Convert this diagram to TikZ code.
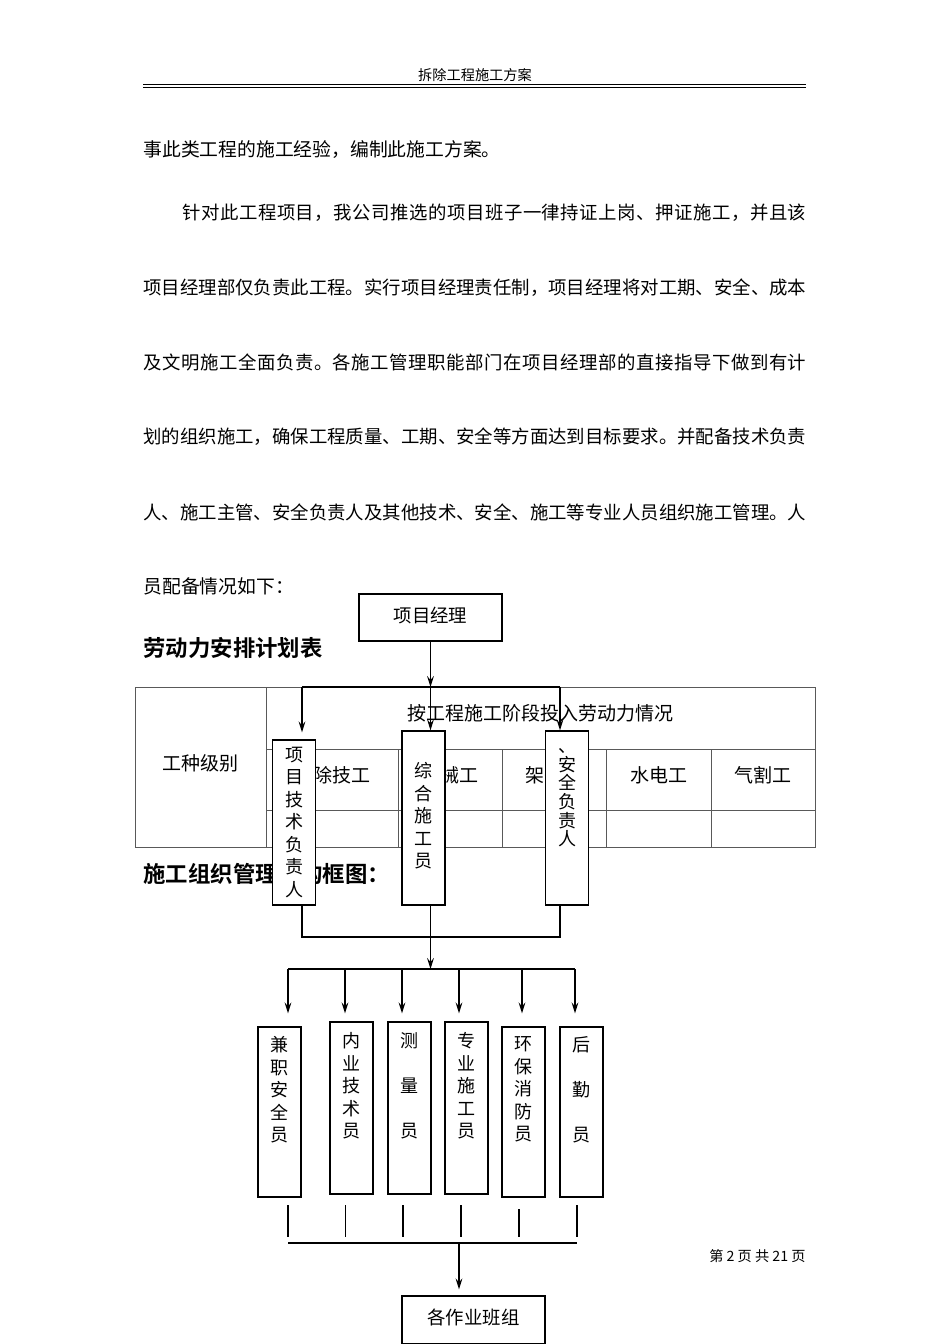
\documentclass[tikz,border=0pt]{standalone}
\usepackage{fontspec}
\newfontfamily\cjk{Noto Sans CJK SC}
\newfontfamily\cjkbf{Noto Sans CJK SC Bold}
\usetikzlibrary{arrows.meta,positioning}

% spread the characters of one line over a given width
\newcommand\spreadchars[1]{\spreadloop#1\relax}
\def\spreadloop#1{\ifx#1\relax\else#1\hfil\expandafter\spreadloop\fi}
\newcommand\spreadline[2]{\hbox to #1{\spreadchars{#2}\unskip}}

\tikzset{
  bodytext/.style={font=\cjk\fontsize{9.4}{11}\selectfont, anchor=west, inner sep=0pt},
  spreadtext/.style={font=\cjk\fontsize{9.2}{11}\selectfont, anchor=west, inner sep=0pt},
  headtext/.style={font=\cjk\fontsize{7.1}{8}\selectfont, inner sep=0pt},
  titletext/.style={font=\cjkbf\fontsize{11.2}{13}\selectfont, anchor=west, inner sep=0pt},
  celltext/.style={font=\cjk\fontsize{9.5}{11}\selectfont, inner sep=0pt},
  tline/.style={draw=black!65, line width=0.5pt},
  link/.style={line width=0.65pt},
  arr/.style={link, -{Stealth[length=5.5pt,width=3.4pt,inset=2pt]}},
  vbox/.style={draw, fill=white, line width=0.65pt, minimum width=21.5pt, inner sep=0pt},
  vtext/.style={font=\cjk\fontsize{9}{11.25}\selectfont, align=center, inner sep=0pt},
  wbox/.style={draw, fill=white, line width=0.65pt, minimum width=71.5pt, minimum height=23.5pt, inner sep=0pt,
    font=\cjk\fontsize{9.2}{11}\selectfont}
}

\begin{document}
\begin{tikzpicture}[x=0.5pt, y=-0.5pt]
\useasboundingbox[fill=white] (0,0) rectangle (950,1344);

% page header
\node[headtext] (hd) at (475,75) {拆除工程施工方案};
\draw[line width=0.6pt] (143,84.5) -- (806,84.5);
\draw[line width=0.9pt] (143,87.4) -- (806,87.4);

% body text
\node[bodytext] (p1) at (143,150) {事此类工程的施工经验，编制此施工方案。};
\node[spreadtext] (p2) at (182,213) {\spreadline{312pt}{针对此工程项目，我公司推选的项目班子一律持证上岗、押证施工，并且该}};
\node[spreadtext] (p3) at (143,288) {\spreadline{331.5pt}{项目经理部仅负责此工程。实行项目经理责任制，项目经理将对工期、安全、成本}};
\node[spreadtext] (p4) at (143,362) {\spreadline{331.5pt}{及文明施工全面负责。各施工管理职能部门在项目经理部的直接指导下做到有计}};
\node[spreadtext] (p5) at (143,437) {\spreadline{331.5pt}{划的组织施工，确保工程质量、工期、安全等方面达到目标要求。并配备技术负责}};
\node[spreadtext] (p6) at (143,512) {\spreadline{331.5pt}{人、施工主管、安全负责人及其他技术、安全、施工等专业人员组织施工管理。人}};
\node[bodytext] (p7) at (143,586) {员配备情况如下：};

\node[titletext] (t1) at (143,648) {劳动力安排计划表};
\node[titletext] (t2) at (143,874) {施工组织管理机构框图：};

% labour table
\draw[tline] (135,687) rectangle (815,847);
\draw[tline] (266,687) -- (266,847);
\draw[tline] (266,749) -- (815,749);
\draw[tline] (266,810) -- (815,810);
\foreach \cx in {398,502,606,711}
  \draw[tline] (\cx,749) -- (\cx,847);
\node[celltext] (tbhead) at (540.5,713) {按工程施工阶段投入劳动力情况};
\node[celltext] (tbkind) at (200.5,763) {工种级别};
\node[celltext] (tbc1) at (332,775) {拆除技工};
\node[celltext] (tbc2) at (450,775) {机械工};
\node[celltext] (tbc3) at (554,775) {架子工};
\node[celltext] (tbc4) at (658.5,775) {水电工};
\node[celltext] (tbc5) at (763,775) {气割工};

% organisation chart
\node[wbox] (pm) at (430.5,617.5) {\raisebox{2.5pt}{项目经理}};
\coordinate (bus1) at (430.5,687);
\coordinate (bus1l) at (302,687);
\coordinate (bus1r) at (560,687);
\draw[arr] (pm) -- (bus1);
\draw[link] (bus1l) -- (bus1r);

\node[vbox, minimum height=82.5pt] (tj) at (294,822.5) {};
\node[vbox, minimum height=87pt] (zh) at (423.5,818) {};
\node[vbox, minimum height=87pt] (aq) at (567,818) {};
\draw[arr, shorten >=3.5pt] (bus1l) -- (bus1l |- tj.north);
\draw[arr] (bus1) -- (bus1 |- zh.north);
\draw[arr] (bus1r) -- (bus1r |- aq.north);
\node[vtext] (tjt) at (tj.center) {项\\目\\技\\术\\负\\责\\人};
\node[vtext, yshift=1pt] (zht) at (zh.center) {综\\合\\施\\工\\员};
\node[vtext, font=\cjk\fontsize{9}{9.3}\selectfont, below=9pt of aq.north] (aqt) {、\\安\\全\\负\\责\\人};

\coordinate (bus2) at (430.5,937);
\draw[link] (bus1l |- tj.south) -- (302,937) -- (560,937) -- (bus1r |- aq.south);
\draw[link] (bus2 |- zh.south) -- (bus2);
\coordinate (bus3) at (430.5,969);
\draw[arr] (bus2) -- (bus3);
\draw[link] (288,969) -- (575,969);

\node[vbox, minimum height=85pt] (jz) at (279.5,1112) {};
\node[vbox, minimum height=86pt] (ny) at (351.5,1108) {};
\node[vbox, minimum height=86pt] (cl) at (409.5,1108) {};
\node[vbox, minimum height=86pt] (zy) at (466.5,1108) {};
\node[vbox, minimum height=85pt] (hb) at (523.5,1112) {};
\node[vbox, minimum height=85pt] (hq) at (581.5,1112) {};
\node[vtext, below=5pt of jz.north] (jzt) {兼\\职\\安\\全\\员};
\node[vtext, below=5.5pt of ny.north] (nyt) {内\\业\\技\\术\\员};
\node[vtext, below=5.5pt of cl.north] (clt) {测\\[11.25pt]量\\[11.25pt]员};
\node[vtext, below=5.5pt of zy.north] (zyt) {专\\业\\施\\工\\员};
\node[vtext, below=5pt of hb.north] (hbt) {环\\保\\消\\防\\员};
\node[vtext, below=5pt of hq.north] (hqt) {后\\[11.25pt]勤\\[11.25pt]员};
\foreach \ax/\bx/\gap in {288/jz/6.5, 345/ny/4, 402/cl/4, 459/zy/4, 522/hb/6.5, 575/hq/6.5}
  \draw[arr, shorten >=\gap pt] (\ax,969) -- (\ax,969 |- \bx.north);

% lower collecting lines
\foreach \lx/\ly in {288/1205, 345.5/1205, 403/1205, 461/1205, 519/1209, 577/1205}
  \draw[link] (\lx,\ly) -- (\lx,1237);
\coordinate (bus4) at (459,1243);
\draw[link] (288,1243) -- (577,1243);
\node[wbox, minimum height=24pt] (bz) at (473.5,1320) {\raisebox{3pt}{各作业班组}};
\draw[arr, shorten >=3pt] (bus4) -- (bus4 |- bz.north);

% page footer
\node[headtext, anchor=east] (ft) at (806,1256) {第 2 页 共 21 页};
\end{tikzpicture}
\end{document}
